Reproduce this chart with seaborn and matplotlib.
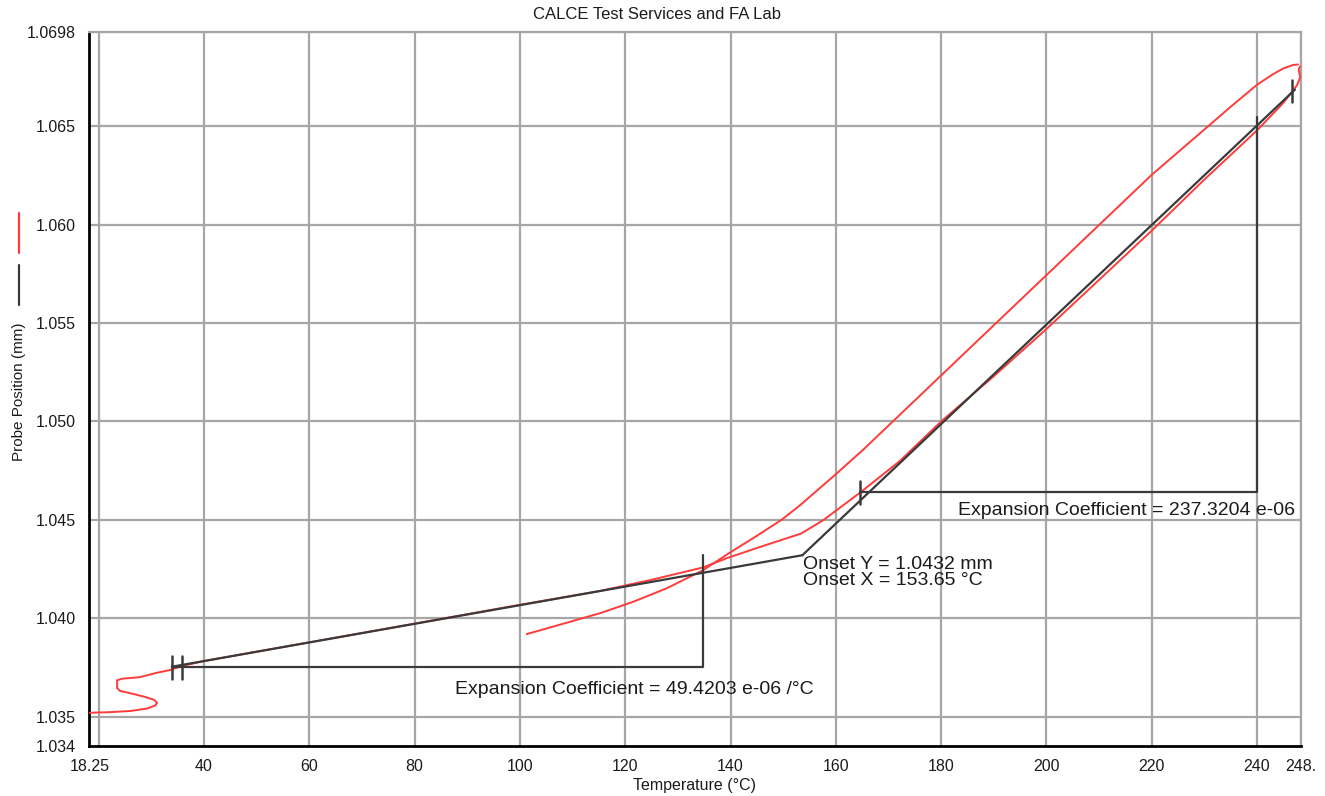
import matplotlib
matplotlib.use("Agg")
import pandas as pd
import matplotlib.pyplot as plt
import seaborn as sns
from matplotlib.lines import Line2D

# heating run (red)
temp_heat = [18.3, 22.0, 26.0, 29.1, 30.7, 31.1, 30.5, 29.0, 27.0, 24.0, 23.5, 23.5,
             24.4, 27.8, 31.0, 33.5, 36.0, 40.0, 60.0, 80.0, 100.0, 115.0, 125.0,
             134.8, 139.3, 145.6, 153.4, 157.6, 164.6, 172.2, 180.0, 190.0, 200.0,
             210.0, 220.0, 230.0, 240.0, 245.0, 247.6, 248.2, 247.9, 248.2]
pos_heat = [1.03519, 1.03522, 1.03528, 1.03540, 1.03555, 1.03569, 1.03585, 1.03598,
            1.03612, 1.03631, 1.03645, 1.03684, 1.03692, 1.03700, 1.03722, 1.03736,
            1.03758, 1.03782, 1.03877, 1.03972, 1.04068, 1.04137, 1.04195, 1.04258,
            1.04305, 1.04362, 1.04430, 1.04498, 1.04638, 1.04800, 1.05000, 1.05230,
            1.05470, 1.05720, 1.05970, 1.06230, 1.06480, 1.06620, 1.06710, 1.06750,
            1.06790, 1.06805]

# cooling run (red), from the hot end back down
temp_cool = [247.8, 246.8, 245.0, 243.0, 240.0, 235.0, 229.2, 220.0, 210.0, 200.0,
             190.0, 180.0, 172.0, 165.1, 159.5, 153.2, 149.7, 144.5, 139.7, 134.8,
             127.9, 121.5, 115.2, 108.0, 101.3]
pos_cool = [1.06815, 1.06812, 1.06795, 1.06765, 1.06712, 1.06600, 1.06466, 1.06254,
            1.05999, 1.05744, 1.05489, 1.05234, 1.05030, 1.04854, 1.04720, 1.04574,
            1.04500, 1.04410, 1.04330, 1.04244, 1.04152, 1.04083, 1.04025, 1.03970,
            1.03919]

# tangent fits and the onset
onset_x, onset_y = 153.65, 1.0432
fit_low_x = [33.9, onset_x]
fit_low_y = [1.03753, onset_y]
fit_high_x = [onset_x, 247.2]
fit_high_y = [onset_y, 1.06687]

# expansion coefficient brackets
bracket1_x = [33.9, 134.8, 134.8]
bracket1_y = [1.03751, 1.03751, 1.0432]
bracket2_x = [164.5, 240.0, 240.0]
bracket2_y = [1.04639, 1.04639, 1.0655]
marks_x = [33.9, 35.9, 164.5, 246.6]
marks_y = [1.03751, 1.03751, 1.04639, 1.0668]

xticks = [18.25, 40, 60, 80, 100, 120, 140, 160, 180, 200, 220, 240, 248.3]
xticklabels = ["18.25", "40", "60", "80", "100", "120", "140", "160", "180", "200",
               "220", "240", "248."]
yticks = [1.0335, 1.035, 1.040, 1.045, 1.050, 1.055, 1.060, 1.065, 1.0698]
yticklabels = ["1.034", "1.035", "1.040", "1.045", "1.050", "1.055", "1.060", "1.065",
               "1.0698"]

sns.set_style("white")
plt.rcParams['font.family'] = ['Liberation Sans', 'DejaVu Sans']

fig = plt.figure(figsize=(13.25, 7.96), dpi=100)
ax = fig.add_axes([0.0675, 0.0628, 0.9142, 0.897])

grid_c = "#a6a6a6"
for xv in [20] + xticks[1:]:
    ax.axvline(xv, color=grid_c, lw=1.6, zorder=0)
for yv in yticks[1:]:
    ax.axhline(yv, color=grid_c, lw=1.6, zorder=0)

red = "#ff3b3b"
blk = "#3a3a3a"
heat = pd.DataFrame({"T": temp_heat, "P": pos_heat})
cool = pd.DataFrame({"T": temp_cool, "P": pos_cool})
sns.lineplot(data=heat, x="T", y="P", sort=False, estimator=None, color=red, lw=1.4, ax=ax, zorder=3)
sns.lineplot(data=cool, x="T", y="P", sort=False, estimator=None, color=red, lw=1.4, ax=ax, zorder=3)

sns.lineplot(x=fit_low_x, y=fit_low_y, sort=False, estimator=None, color=blk, lw=1.6, ax=ax, zorder=4)
sns.lineplot(x=fit_high_x, y=fit_high_y, sort=False, estimator=None, color=blk, lw=1.6, ax=ax, zorder=4)
ax.plot(bracket1_x, bracket1_y, color=blk, lw=1.6, zorder=4)
ax.plot(bracket2_x, bracket2_y, color=blk, lw=1.6, zorder=4)
for mx, my in zip(marks_x, marks_y):
    ax.plot([mx, mx], [my - 0.00058, my + 0.00058], color=blk, lw=1.8, zorder=5)

txt_c = "#1b1b1b"
ax.text(87.7, 1.03639, "Expansion Coefficient = 49.4203 e-06 /°C", fontsize=14, color=txt_c, va="center")
ax.text(183.2, 1.04549, "Expansion Coefficient = 237.3204 e-06", fontsize=14, color=txt_c, va="center")
ax.text(153.8, 1.04271, "Onset Y = 1.0432 mm", fontsize=14, color=txt_c, va="center")
ax.text(153.8, 1.04189, "Onset X = 153.65 °C", fontsize=14, color=txt_c, va="center")

ax.set_xlim(18.25, 248.3)
ax.set_ylim(1.0335, 1.0698)
ax.set_xticks(xticks)
ax.set_xticklabels(xticklabels)
ax.set_yticks(yticks)
ax.set_yticklabels(yticklabels)
ax.tick_params(direction="out", length=6, width=1.5, color="black", labelsize=11.5, labelcolor=txt_c)
ax.set_xlabel("")
ax.set_ylabel("")

for side in ["left", "bottom"]:
    ax.spines[side].set_color("black")
    ax.spines[side].set_linewidth(2)
for side in ["top", "right"]:
    ax.spines[side].set_color(grid_c)
    ax.spines[side].set_linewidth(1.6)

fig.text(0.496, 0.9824, "CALCE Test Services and FA Lab", fontsize=12, color=txt_c, ha="center", va="center")
fig.text(0.5245, 0.0126, "Temperature (°C)", fontsize=11.5, color=txt_c, ha="center", va="center")
fig.text(0.0145, 0.5075, "Probe Position (mm)", fontsize=11, color=txt_c, ha="center", va="center", rotation=90)

# clipped legend keys on the left
fig.add_artist(Line2D([19 / 1325, 19 / 1325], [1 - 213 / 796, 1 - 253 / 796], color=red, lw=1.6))
fig.add_artist(Line2D([19 / 1325, 19 / 1325], [1 - 265 / 796, 1 - 305 / 796], color=blk, lw=1.6))

fig.savefig("out.png", dpi=100)
